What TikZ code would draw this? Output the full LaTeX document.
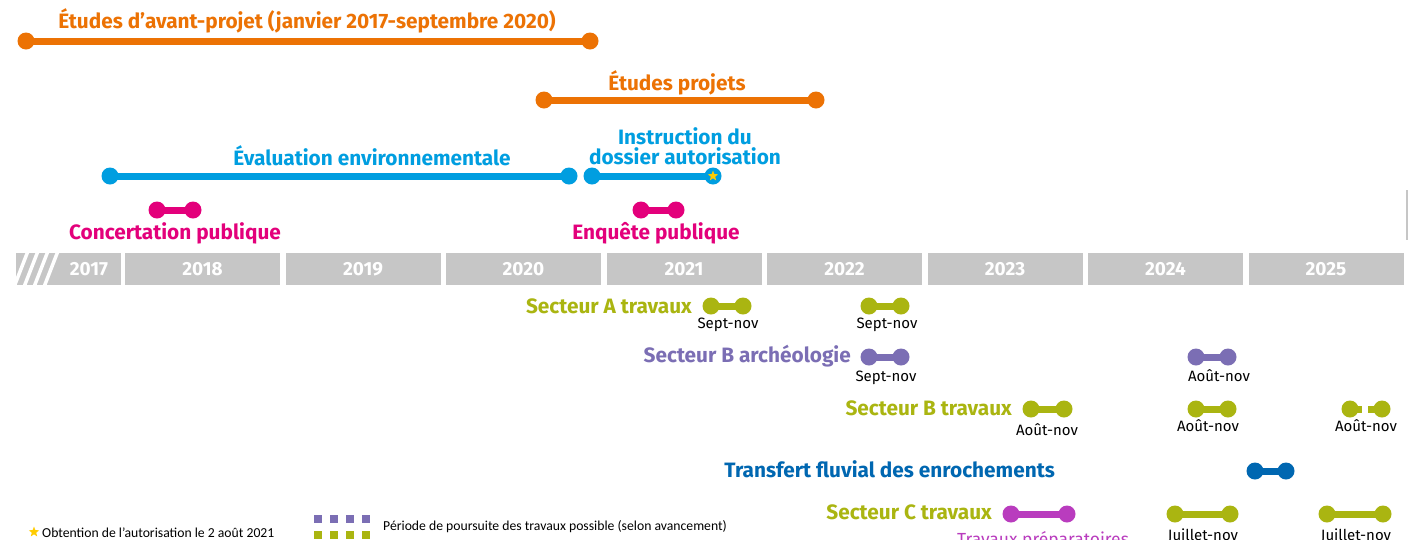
\documentclass[tikz,border=0pt]{standalone}
\usepackage{fontspec}
\setmainfont{Fira Sans}
\newfontfamily\legendfont{Carlito}
\usetikzlibrary{shapes.geometric}
\definecolor{orng}{RGB}{236,114,4}
\definecolor{lblue}{RGB}{0,158,224}
\definecolor{magn}{RGB}{227,0,123}
\definecolor{olive}{RGB}{170,181,17}
\definecolor{purp}{RGB}{123,110,180}
\definecolor{dblue}{RGB}{0,103,177}
\definecolor{prep}{RGB}{185,60,190}
\definecolor{yeargray}{RGB}{198,198,198}
\definecolor{staryel}{RGB}{255,204,0}
\tikzset{
  dot/.style={circle,fill=#1,inner sep=0pt,minimum size=17pt},
  barline/.style={draw=#1,line width=7pt},
  title/.style={font=\bfseries\fontsize{20.8}{19.5}\selectfont,text=#1,inner sep=0pt},
  period/.style={font=\fontsize{15}{17}\selectfont,text=black,inner sep=0pt},
  yearfont/.style={font=\bfseries\fontsize{19}{20}\selectfont,text=white},
  yearbox/.style={fill=yeargray,inner sep=0pt,minimum height=32pt,minimum width=155pt,yearfont},
  legsq/.style={fill=#1,inner sep=0pt,minimum size=8pt},
  legtext/.style={font=\legendfont\fontsize{13.7}{15}\selectfont,text=black,inner sep=0pt},
}
\newcommand\tlbar[6]{%
  \node[dot=#2,minimum size=#6] (#1a) at (#3,#5) {};
  \node[dot=#2,minimum size=#6] (#1b) at (#4,#5) {};
  \draw[barline=#2] (#1a.center) -- (#1b.center);
}
\begin{document}
\begin{tikzpicture}[x=1pt,y=-1pt]
\clip (0,0) rectangle (1410,539);
\fill[white] (0,0) rectangle (1410,539);

% ---- top periods
\node[title=orng] (tavp) at (307,21) {Études d’avant-projet (janvier 2017-septembre 2020)};
\tlbar{avp}{orng}{26}{590}{41}{17pt}
\node[title=orng] (tpro) at (677,83) {Études projets};
\tlbar{pro}{orng}{544}{816}{100}{17pt}
\node[title=lblue] (tevl) at (372,156) {Évaluation environnementale};
\tlbar{evl}{lblue}{110}{569}{176}{17pt}
\node[title=lblue,align=center] (tins) at (685,146) {Instruction du\\dossier autorisation};
\tlbar{ins}{lblue}{592}{713}{176}{17pt}
\node[star,star points=5,star point ratio=2.4,fill=staryel,inner sep=0pt,minimum size=11pt] (insstar) at (insb) {};
\tlbar{con}{magn}{157}{193}{210}{17pt}
\node[title=magn] (tcon) at (175,233) {Concertation publique};
\tlbar{enq}{magn}{641}{676}{210}{17pt}
\node[title=magn] (tenq) at (656,233) {Enquête publique};

% ---- years
\node[yearbox,minimum width=105pt] (y2017) at (68.5,269) {};
\foreach \k in {0,1,2,3}{
  \draw[white,line width=3.5pt] (14+\k*10,287) -- (28+\k*10,251);
}
\node[yearfont,inner sep=0pt] (l2017) at (89,269) {2017};
\foreach \yr [count=\i from 0] in {2018,2019,2020,2021,2022,2023,2024,2025}{
  \node[yearbox] (y\yr) at (202.5+160.5*\i,269) {\yr};
}

% ---- Secteur A travaux
\node[title=olive,anchor=east] (tsa) at (692,306) {Secteur A travaux};
\tlbar{saA}{olive}{711}{743}{306}{17pt}
\node[period] (psaA) at (728,325) {Sept-nov};
\tlbar{saB}{olive}{869}{901}{306}{17pt}
\node[period] (psaB) at (887,325) {Sept-nov};

% ---- Secteur B archéologie
\node[title=purp,anchor=east] (tsba) at (851,356) {Secteur B archéologie};
\tlbar{sbaA}{purp}{869}{901}{357}{17pt}
\node[period] (psbaA) at (886,378) {Sept-nov};
\tlbar{sbaB}{purp}{1196}{1228}{357}{17pt}
\node[period] (psbaB) at (1219,376) {Août-nov};

% ---- Secteur B travaux
\node[title=olive,anchor=east] (tsbt) at (1012,408) {Secteur B travaux};
\tlbar{sbtA}{olive}{1031}{1064}{409}{17pt}
\node[period] (psbtA) at (1047,430) {Août-nov};
\tlbar{sbtB}{olive}{1196}{1228}{409}{17pt}
\node[period] (psbtB) at (1208,426) {Août-nov};
\tlbar{sbtC}{olive}{1350}{1382}{409}{17pt}
\fill[white] (1362,403) rectangle (1368,415);
\node[period] (psbtC) at (1366,426) {Août-nov};

% ---- Transfert fluvial
\node[title=dblue,anchor=east] (ttf) at (1055,469) {Transfert fluvial des enrochements};
\tlbar{tf}{dblue}{1255}{1286}{471}{17pt}

% ---- Secteur C travaux
\node[title=olive,anchor=east] (tsc) at (992,512) {Secteur C travaux};
\tlbar{scA}{prep}{1011}{1067}{514}{17pt}
\node[font=\fontsize{17.5}{19}\selectfont,text=prep,inner sep=0pt] (pscA) at (1043,540) {Travaux préparatoires};
\tlbar{scB}{olive}{1175}{1230}{514}{17pt}
\node[period] (pscB) at (1203,536) {Juillet-nov};
\tlbar{scC}{olive}{1327}{1383}{514}{17pt}
\node[period] (pscC) at (1356,536) {Juillet-nov};

% ---- legend
\node[star,star points=5,star point ratio=2.4,fill=staryel,inner sep=0pt,minimum size=11pt] (legstar) at (34,532) {};
\node[legtext,anchor=west] (leg1) at (42,533) {Obtention de l’autorisation le 2 août 2021};
\foreach \i in {0,1,2,3}{
  \node[legsq=purp] (lp\i) at (318+16*\i,519) {};
  \node[legsq=olive] (lo\i) at (318+16*\i,535) {};
}
\node[legtext,anchor=west] (leg2) at (383,527) {Période de poursuite des travaux possible (selon avancement)};

% ---- right edge mark
\draw[yeargray,line width=2pt] (1407,190) -- (1407,240);
\end{tikzpicture}
\end{document}
